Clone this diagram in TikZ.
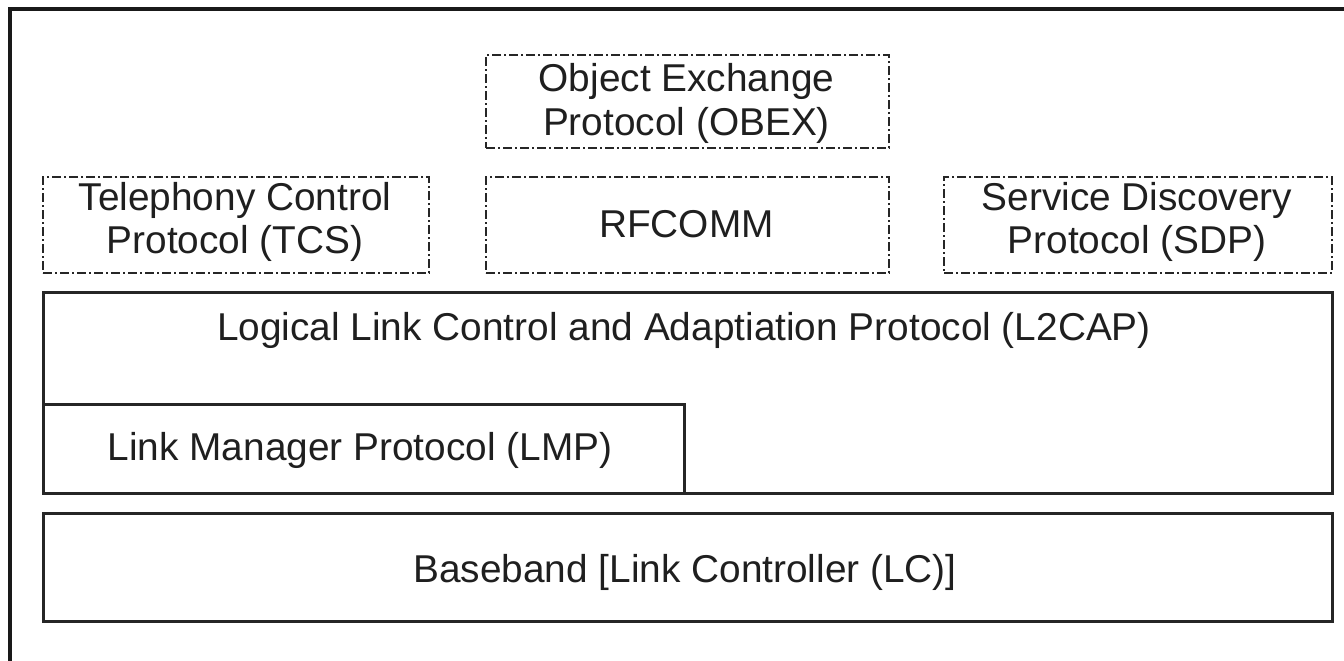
\documentclass[tikz,border=0pt]{standalone}
\usepackage{fontspec}
\setmainfont{Liberation Sans}
\begin{document}
\begin{tikzpicture}[x=1pt,y=-1pt,
  dbox/.style={draw=black!85, line width=2.1pt, dash pattern=on 9pt off 3pt on 2pt off 3pt, inner sep=0pt, anchor=north west},
  sbox/.style={draw=black!85, line width=2.6pt, inner sep=0pt, anchor=north west},
  txt/.style={inner sep=0pt, anchor=base, text=black!88, font=\fontsize{38.8}{43}\selectfont}]
\useasboundingbox[fill=white] (0,0) rectangle (1344,661);
% outer frame (only left and top edges visible)
\draw[line width=3.5pt, black!90] (10,661) -- (10,9) -- (1344,9);
% boxes
\node[dbox, minimum width=403pt, minimum height=93pt] (obex) at (485,54) {};
\node[dbox, minimum width=386pt, minimum height=96pt] (tcs) at (42,176) {};
\node[dbox, minimum width=403pt, minimum height=96pt] (rfcomm) at (485,176) {};
\node[dbox, minimum width=388pt, minimum height=96pt] (sdp) at (943,176) {};
\node[sbox, minimum width=1289pt, minimum height=201pt] (l2cap) at (42,291) {};
\node[sbox, minimum width=641pt, minimum height=89pt] (lmp) at (42,403) {};
\node[sbox, minimum width=1289pt, minimum height=108pt] (bb) at (42,512) {};
% texts
\node[txt] (obex1) at (686.5,92) {Object Exchange};
\node[txt] (obex2) at (686.5,135) {Protocol (OBEX)};
\node[txt] (tcs1) at (235,210) {Telephony Control};
\node[txt] (tcs2) at (235,253) {Protocol (TCS)};
\node[txt] (rf) at (686.5,237) {RFCOMM};
\node[txt] (sdp1) at (1137,210) {Service Discovery};
\node[txt] (sdp2) at (1137,253) {Protocol (SDP)};
\node[txt] (l2t) at (684,340) {Logical Link Control and Adaptiation Protocol (L2CAP)};
\node[txt] (lmpt) at (360,460) {Link Manager Protocol (LMP)};
\node[txt] (bbt) at (685,582) {Baseband [Link Controller (LC)]};
\end{tikzpicture}
\end{document}
